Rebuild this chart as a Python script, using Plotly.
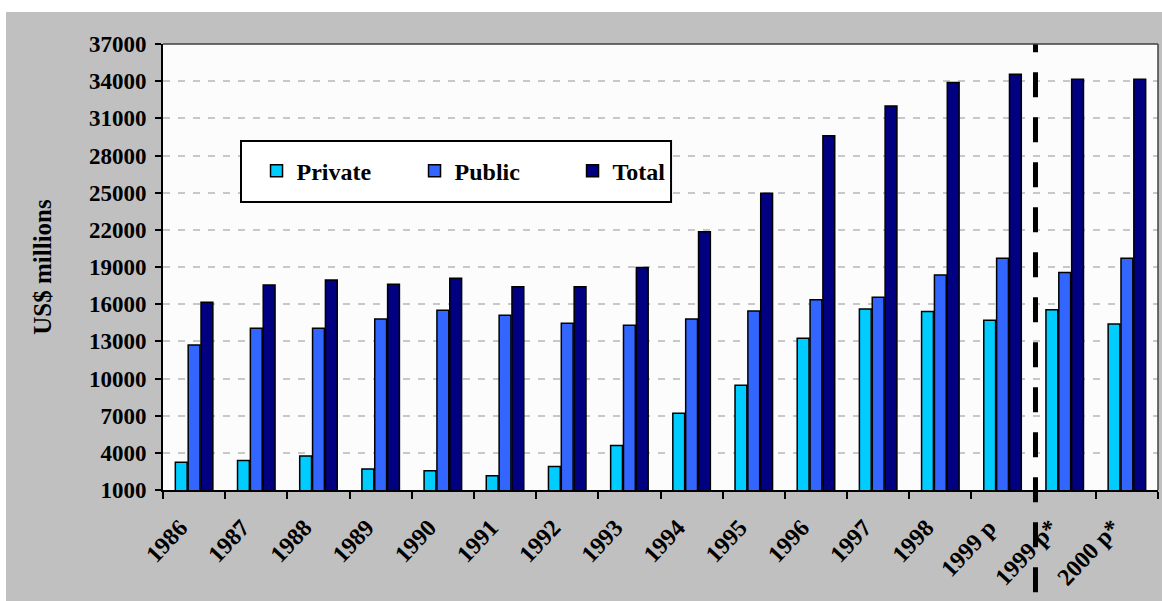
import plotly.graph_objects as go

years = ["1986", "1987", "1988", "1989", "1990", "1991", "1992", "1993",
         "1994", "1995", "1996", "1997", "1998", "1999 p", "1999 p*", "2000 p*"]
private = [3250, 3380, 3750, 2700, 2550, 2150, 2900, 4600,
           7200, 9450, 13250, 15600, 15400, 14700, 15550, 14400]
public = [12700, 14050, 14050, 14800, 15500, 15100, 14450, 14300,
          14800, 15450, 16350, 16550, 18350, 19700, 18550, 19700]
total = [16150, 17550, 17950, 17600, 18100, 17400, 17400, 18950,
         21850, 24950, 29600, 32000, 33900, 34550, 34150, 34150]
y_ticks = list(range(1000, 37001, 3000))

FONT = "Liberation Serif"

fig = go.Figure()
for name, vals, col in [("Private", private, "#00CCFF"),
                        ("Public", public, "#3366FF"),
                        ("Total", total, "#000080")]:
    fig.add_trace(go.Bar(x=years, y=vals, name=name,
                         marker=dict(color=col, line=dict(color="black", width=1.5))))

shapes = [
    # gray chart background
    dict(type="rect", xref="paper", yref="paper", x0=-0.1578, x1=1.01, y0=-0.26, y1=1.0717,
         fillcolor="#C0C0C0", line=dict(width=0), layer="below"),
    # plot area
    dict(type="rect", xref="paper", yref="paper", x0=0, x1=1, y0=0, y1=1,
         fillcolor="#FCFCFC", line=dict(width=0), layer="below"),
    # legend box
    dict(type="rect", xref="paper", yref="paper", x0=0.0784, x1=0.5106, y0=0.6457, y1=0.7825,
         fillcolor="white", line=dict(color="black", width=2), layer="above"),
    # dashed separator
    dict(type="line", xref="x", yref="paper", x0=13.53, x1=13.53, y0=-0.229, y1=1.0,
         line=dict(color="black", width=5, dash="25px,20px"), layer="above"),
    # thin border on top/right of plot area
    dict(type="line", xref="paper", yref="paper", x0=0, x1=1, y0=1, y1=1,
         line=dict(color="#404040", width=1.5)),
    dict(type="line", xref="paper", yref="paper", x0=1, x1=1, y0=0, y1=1,
         line=dict(color="#404040", width=1.5)),
]

fig.update_layout(
    width=1162, height=601,
    margin=dict(l=163, r=4, t=44, b=111),
    paper_bgcolor="white", plot_bgcolor="#FCFCFC",
    barmode="group", bargap=0.38, bargroupgap=0.08,
    font=dict(family=FONT, color="black", size=20),
    shapes=shapes,
    showlegend=True,
    legend=dict(orientation="h", x=0.094, xanchor="left", y=0.715, yanchor="middle",
                bgcolor="rgba(0,0,0,0)", borderwidth=0, entrywidth=113,
                font=dict(family=FONT, size=24, color="black", weight="bold"),
                traceorder="normal"),
    xaxis=dict(type="category", tickson="boundaries", ticks="outside", ticklen=7,
               tickcolor="black", tickwidth=1.5, tickangle=-47,
               ticklabelstandoff=12, ticklabelshift=-14,
               tickfont=dict(family=FONT, size=24, color="black", weight="bold"),
               showline=True, linecolor="black", linewidth=2, mirror=False,
               showgrid=False, automargin=False),
    yaxis=dict(range=[1000, 37000], tickvals=y_ticks, tickformat="d",
               ticks="outside", ticklen=6, tickcolor="black", tickwidth=1.5,
               ticklabelstandoff=4,
               tickfont=dict(family=FONT, size=23, color="black", weight="bold"),
               showline=True, linecolor="black", linewidth=2, mirror=False,
               showgrid=True, gridcolor="#C8C8C8", gridwidth=1.5, griddash="7px,8px",
               zeroline=False, automargin=False,
               title=dict(text="US$ millions", standoff=30,
                          font=dict(family=FONT, size=25, color="black", weight="bold"))),
)

fig.write_html("out.html", config={"displayModeBar": False},
               post_script="document.body.style.margin='0';")
